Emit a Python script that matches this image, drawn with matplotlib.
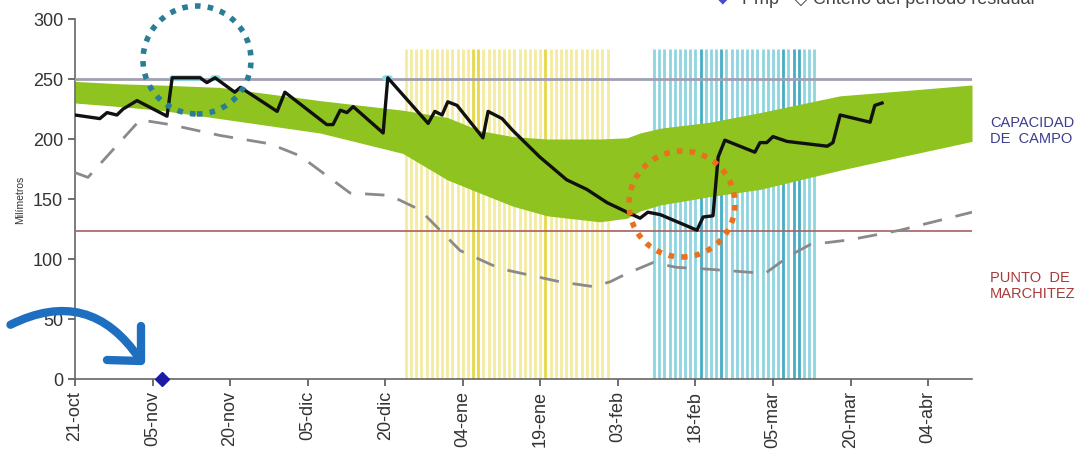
import matplotlib
matplotlib.use("Agg")
import matplotlib.pyplot as plt
from matplotlib.patches import Ellipse, FancyArrowPatch
from matplotlib.lines import Line2D

plt.rcParams['font.family'] = ['Liberation Sans', 'DejaVu Sans']

# days counted from 21-oct
tick_days = [0, 15, 30, 45, 60, 75, 90, 105, 120, 135, 150, 165]
tick_labels = ['21-oct', '05-nov', '20-nov', '05-dic', '20-dic', '04-ene',
               '19-ene', '03-feb', '18-feb', '05-mar', '20-mar', '04-abr']

# soil water content (black line)
water_days = [0, 4.8, 6.2, 8.1, 9.3, 12.0, 17.8, 18.8, 24.2, 25.5, 27.1, 30.9, 32.0,
              39.1, 40.6, 48.7, 49.9, 51.3, 52.6, 53.8, 59.6, 60.5, 68.3, 69.6, 71.0,
              72.1, 73.9, 78.9, 79.9, 82.6, 84.7, 89.9, 95.1, 99.0, 102.9, 106.8,
              109.3, 110.8, 113.2, 120.3, 121.5, 123.4, 124.4, 125.7, 131.5, 132.5,
              133.8, 135.0, 137.7, 145.5, 146.6, 148.0, 153.8, 154.7, 156.1]
water_mm = [220, 217, 222, 220, 225, 232, 219, 251, 251, 247, 251, 239, 243,
            223, 239, 212, 212, 224, 222, 227, 205, 251, 213, 223, 220,
            231, 228, 201, 223, 217, 207, 185, 166, 158, 147, 139,
            134, 139, 137, 124, 135, 136, 185, 199, 189, 197,
            197, 202, 198, 194, 197, 220, 214, 228, 230]

# stretches where the content reaches field capacity (cyan marks)
full_days = [[18.8, 24.2], [26.6, 27.6], [59.9, 61.0]]
full_mm = [[251, 251], [251, 251], [251, 251]]

# dashed reference curve
ref_days = [0, 2.5, 12.6, 18.4, 28.0, 37.7, 43.5, 53.2, 60.9, 66.7, 74.5, 82.2,
            93.8, 100.2, 103.5, 106.8, 111.8, 116.4, 120.9, 133.5, 138.3, 142.2,
            149.9, 159.6, 173.5]
ref_mm = [172, 168, 216, 212, 203, 196, 186, 155, 153, 141, 107, 92,
          81, 77, 81, 88, 97, 93, 92, 88, 103, 112, 116, 124, 139]

# optimal range band (green)
band_days = [0, 8.7, 16.4, 28.0, 47.4, 63.4, 72.0, 78.3, 84.7, 91.3, 101.5, 106.8,
             109.3, 113.2, 122.8, 132.5, 148.0, 159.6, 173.5]
band_high = [248, 246, 245, 243, 232, 224, 218, 207, 202, 200, 200, 201,
             205, 209, 214, 222, 236, 240, 245]
band_low = [230, 227, 224, 217, 205, 188, 166, 155, 144, 136, 131, 134,
            140, 145, 152, 158, 174, 185, 198]

field_capacity = 250
wilting_point = 123

# daily event bars
yellow_days = [64, 65, 66, 67, 68, 69, 70, 71, 72, 73, 74, 75, 76, 77, 78, 79, 80,
               81, 82, 83, 84, 85, 86, 87, 88, 89, 90, 91, 92, 93, 94, 95, 96, 97,
               98, 99, 100, 101, 102, 103]
yellow_dark = [77, 78, 91]
cyan_days = [112, 113, 114, 115, 116, 117, 118, 119, 120, 121, 122, 123, 124, 125,
             126, 127, 128, 129, 130, 131, 132, 133, 134, 135, 136, 137, 138, 139,
             140, 141, 142, 143]
cyan_dark = [121, 125, 137, 139, 140]
bar_top = 275

pump_day = [16.8]
pump_mm = [0]

W, H = 1085, 454
fig = plt.figure(figsize=(W / 100, H / 100), dpi=100)
ax = fig.add_axes([75 / W, 1 - 379 / H, (972 - 75) / W, (379 - 19) / H])

for d in yellow_days:
    c = '#e6d84a' if d in yellow_dark else '#f3eca0'
    ax.vlines(d, 0, bar_top, color=c, lw=2.0, zorder=1)
for d in cyan_days:
    c = '#45aec4' if d in cyan_dark else '#8ed5e0'
    ax.vlines(d, 0, bar_top, color=c, lw=2.0, zorder=1)

ax.fill_between(band_days, band_low, band_high, color='#8fc31f', lw=0, zorder=2)

ax.axhline(field_capacity, color='#a0a0b4', lw=2, zorder=3)
ax.axhline(wilting_point, color='#a86060', lw=1.2, zorder=3)

ax.plot(ref_days, ref_mm, color='#8a8a8a', lw=2, dashes=(7, 5), zorder=4)
for xs, ys in zip(full_days, full_mm):
    ax.plot(xs, ys, color='#7fe0f0', lw=4, zorder=4, solid_capstyle='round')
ax.plot(water_days, water_mm, color='#111111', lw=2.4, zorder=5,
        solid_joinstyle='round')
ax.plot(pump_day, pump_mm, 'D', color='#1b1ba8', ms=7, zorder=6, clip_on=False)

ax.set_xlim(0, 173.5)
ax.set_ylim(0, 300)
ax.set_yticks([0, 50, 100, 150, 200, 250, 300])
ax.set_xticks(tick_days)
ax.set_xticklabels(tick_labels, rotation=90)
ax.tick_params(labelsize=13, colors='#555555', labelcolor='#333333', length=5, width=1.2)
for side in ['top', 'right']:
    ax.spines[side].set_visible(False)
for side in ['left', 'bottom']:
    ax.spines[side].set_color('#666666')
    ax.spines[side].set_linewidth(1.2)

fig.text(20 / W, 1 - 200 / H, 'Milímetros', rotation=90, fontsize=7.5,
         ha='center', va='center', color='#333333')

fig.text(990 / W, 1 - 131 / H, 'CAPACIDAD\nDE  CAMPO', fontsize=10.5,
         color='#3c3c8c', va='center', ha='left', multialignment='left',
         linespacing=1.2)
fig.text(990 / W, 1 - 286 / H, 'PUNTO  DE\nMARCHITEZ', fontsize=10.5,
         color='#a83a3a', va='center', ha='left', multialignment='left',
         linespacing=1.2)

# partly cut legend at the top edge
fig.text(718 / W, 1 + 1 / H, '\u25c6', fontsize=9, color='#4a4ad0', va='center')
fig.text(742 / W, 1 + 1 / H, 'Pmp   \u25c7 Criterio del período residual',
         fontsize=13, color='#444444', va='center')


def px_circle(cx, cy, r, color):
    return Ellipse((cx / W, 1 - cy / H), 2 * r / W, 2 * r / H,
                   transform=fig.transFigure, fill=False, ec=color, lw=4,
                   ls=(0, (1, 1.3)), zorder=10)


# annotation circles
fig.patches.append(px_circle(197, 60, 54, '#2b7d96'))
fig.patches.append(px_circle(682, 204, 53, '#e9701c'))

# curved arrow with an open head
tip = (141, 361)
curve = FancyArrowPatch((8 / W, 1 - 326 / H), (tip[0] / W, 1 - tip[1] / H),
                        transform=fig.transFigure,
                        connectionstyle='arc3,rad=-0.45', arrowstyle='-',
                        color='#1f6fc0', lw=6, capstyle='round', zorder=10)
fig.patches.append(curve)
head_x = [107 / W, tip[0] / W, tip[0] / W]
head_y = [1 - 360 / H, 1 - tip[1] / H, 1 - 326 / H]
fig.lines.append(Line2D(head_x, head_y, transform=fig.transFigure, color='#1f6fc0',
                        lw=6, solid_capstyle='round', solid_joinstyle='round',
                        zorder=10))

fig.savefig('out.png', dpi=100)
